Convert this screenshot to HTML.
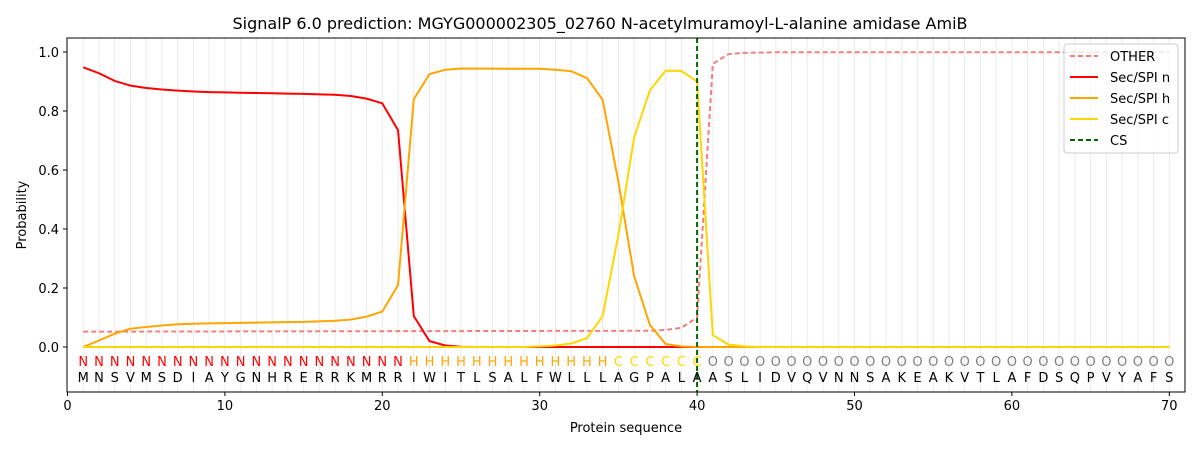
<!DOCTYPE html>
<html><head><meta charset="utf-8"><style>
body{margin:0;background:#fff;}
svg{display:block;font-family:"DejaVu Sans","Liberation Sans",sans-serif;}
</style></head><body>
<svg id="s" width="1200" height="450" xmlns="http://www.w3.org/2000/svg">
<rect width="1200" height="450" fill="#fff"/>
<g id="grid"></g>
<g id="lines"></g>
<line x1="697.1" y1="38" x2="697.1" y2="392" stroke="#006400" stroke-width="2" stroke-dasharray="5,3"/>
<rect x="67" y="38" width="1118" height="354" fill="none" stroke="#000" stroke-width="1"/>
<text x="600" y="29" font-size="16" text-anchor="middle">SignalP 6.0 prediction: MGYG000002305_02760 N-acetylmuramoyl-L-alanine amidase AmiB</text>
<g font-size="13" text-anchor="end">
<text x="59" y="352">0.0</text><text x="59" y="293">0.2</text><text x="59" y="234">0.4</text>
<text x="59" y="175">0.6</text><text x="59" y="116">0.8</text><text x="59" y="57">1.0</text>
</g>
<g stroke="#000"><line x1="63" x2="67" y1="347" y2="347"/><line x1="63" x2="67" y1="288" y2="288"/><line x1="63" x2="67" y1="229" y2="229"/><line x1="63" x2="67" y1="170" y2="170"/><line x1="63" x2="67" y1="111" y2="111"/><line x1="63" x2="67" y1="52" y2="52"/>
<line x1="67.5" x2="67.5" y1="392" y2="396"/><line x1="224.9" x2="224.9" y1="392" y2="396"/><line x1="382.3" x2="382.3" y1="392" y2="396"/><line x1="539.7" x2="539.7" y1="392" y2="396"/><line x1="697.1" x2="697.1" y1="392" y2="396"/><line x1="854.5" x2="854.5" y1="392" y2="396"/><line x1="1011.9" x2="1011.9" y1="392" y2="396"/><line x1="1169.3" x2="1169.3" y1="392" y2="396"/></g>
<g font-size="13" text-anchor="middle">
<text x="67.5" y="410">0</text><text x="224.9" y="410">10</text><text x="382.3" y="410">20</text><text x="539.7" y="410">30</text><text x="697.1" y="410">40</text><text x="854.5" y="410">50</text><text x="1011.9" y="410">60</text><text x="1169.3" y="410">70</text>
<text x="626" y="432">Protein sequence</text>
<text transform="translate(26,215) rotate(-90)">Probability</text>
</g>
<g font-size="13" text-anchor="middle">
<text y="366" fill="red" x="83.24 98.98 114.72 130.46 146.2 161.94 177.68 193.42 209.16 224.9 240.64 256.38 272.12 287.86 303.6 319.34 335.08 350.82 366.56 382.3 398.04">NNNNNNNNNNNNNNNNNNNNN</text>
<text y="366" fill="orange" x="413.78 429.52 445.26 461 476.74 492.48 508.22 523.96 539.7 555.44 571.18 586.92 602.66">HHHHHHHHHHHHH</text>
<text y="366" fill="gold" x="618.4 634.14 649.88 665.62 681.36 697.1">CCCCCC</text>
<text y="366" fill="gray" x="712.84 728.58 744.32 760.06 775.8 791.54 807.28 823.02 838.76 854.5 870.24 885.98 901.72 917.46 933.2 948.94 964.68 980.42 996.16 1011.9 1027.64 1043.38 1059.12 1074.86 1090.6 1106.34 1122.08 1137.82 1153.56 1169.3">OOOOOOOOOOOOOOOOOOOOOOOOOOOOOO</text>
<text y="382" fill="#000" x="83.24 98.98 114.72 130.46 146.2 161.94 177.68 193.42 209.16 224.9 240.64 256.38 272.12 287.86 303.6 319.34 335.08 350.82 366.56 382.3 398.04 413.78 429.52 445.26 461 476.74 492.48 508.22 523.96 539.7 555.44 571.18 586.92 602.66 618.4 634.14 649.88 665.62 681.36 697.1 712.84 728.58 744.32 760.06 775.8 791.54 807.28 823.02 838.76 854.5 870.24 885.98 901.72 917.46 933.2 948.94 964.68 980.42 996.16 1011.9 1027.64 1043.38 1059.12 1074.86 1090.6 1106.34 1122.08 1137.82 1153.56 1169.3">MNSVMSDIAYGNHRERRKMRRIWITLSALFWLLLAGPALAASLIDVQVNNSAKEAKVTLAFDSQPVYAFS</text>
</g>
<rect x="1064" y="44" width="114" height="109" rx="3" fill="#fff" fill-opacity="0.8" stroke="#ccc"/>
<g stroke-width="2">
<line x1="1070" x2="1098" y1="56" y2="56" stroke="#F08080" stroke-dasharray="5,3"/>
<line x1="1070" x2="1098" y1="77" y2="77" stroke="red"/>
<line x1="1070" x2="1098" y1="98" y2="98" stroke="orange"/>
<line x1="1070" x2="1098" y1="119" y2="119" stroke="gold"/>
<line x1="1070" x2="1098" y1="140" y2="140" stroke="#006400" stroke-dasharray="5,3"/>
</g>
<g font-size="13">
<text x="1110" y="61">OTHER</text><text x="1110" y="82">Sec/SPI n</text><text x="1110" y="103">Sec/SPI h</text><text x="1110" y="124">Sec/SPI c</text><text x="1110" y="145">CS</text>
</g>
</svg>
<script>
var X=i=>67.5+15.74*i, Y=v=>347-295*v;
var g='';for(var i=1;i<=70;i++)g+='<line x1="'+X(i)+'" x2="'+X(i)+'" y1="38" y2="392" stroke="#ebebeb" stroke-width="1"/>';
document.getElementById('grid').innerHTML=g;
function fill(pts){var a=[];for(var i=1;i<=70;i++){a[i]=pts[i]!==undefined?pts[i]:null;}
var last=0;for(var i=1;i<=70;i++){if(a[i]===null){var j=i;while(j<=70&&a[j]===null)j++;var nv=j<=70?a[j]:last;var pv=last;for(var k=i;k<j;k++)a[k]=pv+(nv-pv)*(k-i+1)/(j-i+1);i=j-1;}else last=a[i];}
return a;}
var n=fill({1:.948,2:.928,3:.902,4:.886,5:.878,6:.873,7:.869,8:.866,9:.864,10:.863,15:.858,17:.855,18:.851,19:.842,20:.826,21:.735,22:.105,23:.02,24:.005,25:.001,26:0,70:0});
var h=fill({1:0,2:.022,3:.045,4:.062,5:.068,6:.073,7:.077,8:.079,9:.08,10:.081,15:.085,17:.089,18:.093,19:.103,20:.12,21:.21,22:.84,23:.925,24:.94,25:.944,30:.943,31:.94,32:.935,33:.912,34:.838,35:.56,36:.24,37:.075,38:.01,39:.002,40:0,70:0});
var c=fill({1:0,29:0,30:.002,31:.005,32:.012,33:.03,34:.105,35:.38,36:.71,37:.87,38:.937,39:.936,40:.9,41:.04,42:.008,43:.002,44:0,70:0});
var o=fill({1:.052,37:.055,38:.058,39:.065,40:.1,41:.96,42:.993,43:.997,44:.998,45:.999,70:.999});
function pl(a,col,d){var p='';for(var i=1;i<=70;i++)p+=X(i).toFixed(2)+','+Y(a[i]).toFixed(2)+' ';return '<polyline points="'+p+'" fill="none" stroke="'+col+'" stroke-width="2"'+(d?' stroke-dasharray="5,3"':'')+'/>';}
document.getElementById('lines').innerHTML=pl(o,'#F08080',1)+pl(n,'red')+pl(h,'orange')+pl(c,'gold');
</script>
</body></html>
